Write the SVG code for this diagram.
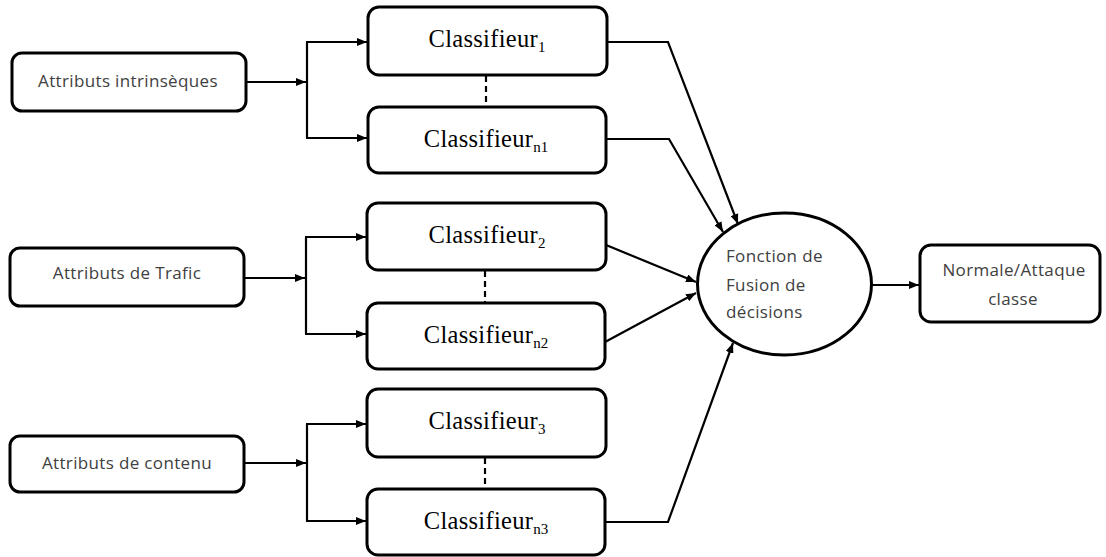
<svg xmlns="http://www.w3.org/2000/svg" width="1106" height="557" viewBox="0 0 1106 557">
  <style>
    .box { fill: #ffffff; stroke: #000000; stroke-width: 3; }
    .lbl { font-family: "Open Sans", "Liberation Sans", sans-serif; font-size: 17px; fill: #404040; letter-spacing: 0.35px; }
    .cls { font-family: "Liberation Serif", "Times New Roman", serif; font-size: 24.5px; fill: #000000; letter-spacing: 0.3px; }
    .sub { font-size: 15px; letter-spacing: 0; }
    .wire { fill: none; stroke: #000000; stroke-width: 2.2; }
    .dash { fill: none; stroke: #000000; stroke-width: 2.2; stroke-dasharray: 6 4; }
  </style>
  <defs>
    <marker id="arrow" viewBox="0 0 10 8" refX="10" refY="4" markerWidth="10" markerHeight="8" markerUnits="userSpaceOnUse" orient="auto">
      <path d="M0,0 L10,4 L0,8 z" fill="#000000"/>
    </marker>
  </defs>
  <rect width="1106" height="557" fill="#ffffff"/>

  <!-- connectors -->
  <g id="connectors">
    <!-- feature groups to classifier branches -->
    <path class="wire" d="M246,82 H306" marker-end="url(#arrow)"/>
    <path class="wire" d="M307,42 V138"/>
    <path class="wire" d="M306,42 H367" marker-end="url(#arrow)"/>
    <path class="wire" d="M306,138 H367" marker-end="url(#arrow)"/>

    <path class="wire" d="M244,278 H305" marker-end="url(#arrow)"/>
    <path class="wire" d="M306,237 V334"/>
    <path class="wire" d="M305,237 H366" marker-end="url(#arrow)"/>
    <path class="wire" d="M305,334 H366" marker-end="url(#arrow)"/>

    <path class="wire" d="M244,463 H306" marker-end="url(#arrow)"/>
    <path class="wire" d="M307,424 V521"/>
    <path class="wire" d="M306,424 H366" marker-end="url(#arrow)"/>
    <path class="wire" d="M306,521 H366" marker-end="url(#arrow)"/>

    <!-- dotted continuation between classifiers -->
    <path class="dash" d="M486,76 V106"/>
    <path class="dash" d="M485,271 V302"/>
    <path class="dash" d="M485,458 V488"/>

    <!-- classifiers to fusion -->
    <path class="wire" d="M607,42 H668 L738,224" marker-end="url(#arrow)"/>
    <path class="wire" d="M606,139 H669 L723,232" marker-end="url(#arrow)"/>
    <path class="wire" d="M606,245 L696,282" marker-end="url(#arrow)"/>
    <path class="wire" d="M605,342 L696,293" marker-end="url(#arrow)"/>
    <path class="wire" d="M605,522 H668 L733,343" marker-end="url(#arrow)"/>

    <!-- fusion to result -->
    <path class="wire" d="M872,285 H919" marker-end="url(#arrow)"/>
  </g>

  <!-- feature groups -->
  <g id="attr-intrinseques">
    <rect class="box" x="12" y="53" width="234" height="58" rx="10"/>
    <text class="lbl" x="128" y="87" text-anchor="middle">Attributs intrinsèques</text>
  </g>
  <g id="attr-trafic">
    <rect class="box" x="10" y="248" width="234" height="58" rx="10"/>
    <text class="lbl" x="127" y="279" text-anchor="middle">Attributs de Trafic</text>
  </g>
  <g id="attr-contenu">
    <rect class="box" x="10" y="436" width="234" height="56" rx="10"/>
    <text class="lbl" x="127" y="469" text-anchor="middle">Attributs de contenu</text>
  </g>

  <!-- classifiers -->
  <g id="classifieur-1">
    <rect class="box" x="368" y="7" width="239" height="68" rx="11"/>
    <text class="cls" x="487" y="47" text-anchor="middle">Classifieur<tspan class="sub" dy="5">1</tspan></text>
  </g>
  <g id="classifieur-n1">
    <rect class="box" x="368" y="107" width="238" height="66" rx="11"/>
    <text class="cls" x="486" y="147" text-anchor="middle">Classifieur<tspan class="sub" dy="5">n1</tspan></text>
  </g>
  <g id="classifieur-2">
    <rect class="box" x="367" y="203" width="239" height="67" rx="11"/>
    <text class="cls" x="487" y="243" text-anchor="middle">Classifieur<tspan class="sub" dy="5">2</tspan></text>
  </g>
  <g id="classifieur-n2">
    <rect class="box" x="367" y="303" width="238" height="66" rx="11"/>
    <text class="cls" x="486" y="343" text-anchor="middle">Classifieur<tspan class="sub" dy="5">n2</tspan></text>
  </g>
  <g id="classifieur-3">
    <rect class="box" x="367" y="389" width="239" height="68" rx="11"/>
    <text class="cls" x="487" y="429" text-anchor="middle">Classifieur<tspan class="sub" dy="5">3</tspan></text>
  </g>
  <g id="classifieur-n3">
    <rect class="box" x="367" y="489" width="238" height="66" rx="11"/>
    <text class="cls" x="486" y="529" text-anchor="middle">Classifieur<tspan class="sub" dy="5">n3</tspan></text>
  </g>

  <!-- decision fusion -->
  <g id="fusion">
    <ellipse class="box" cx="784.5" cy="284" rx="87" ry="71"/>
    <text class="lbl" x="726" y="262">Fonction de</text>
    <text class="lbl" x="726" y="291">Fusion de</text>
    <text class="lbl" x="726" y="318">décisions</text>
  </g>

  <!-- output -->
  <g id="resultat">
    <rect class="box" x="920" y="245" width="180" height="77" rx="11"/>
    <text class="lbl" x="1014" y="276" text-anchor="middle">Normale/Attaque</text>
    <text class="lbl" x="1013" y="305" text-anchor="middle">classe</text>
  </g>
</svg>
